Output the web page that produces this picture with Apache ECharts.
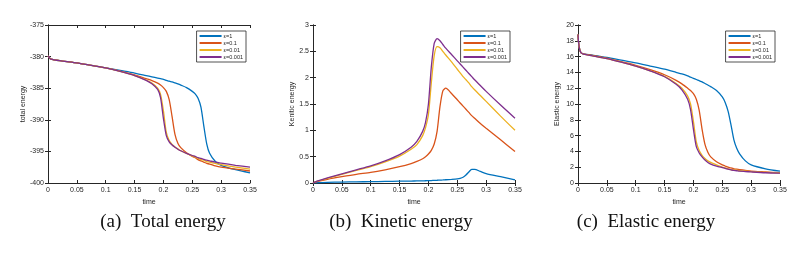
<!DOCTYPE html>
<html><head><meta charset="utf-8">
<script src="https://cdn.jsdelivr.net/npm/echarts@6/dist/echarts.min.js"></script>
<style>html,body{margin:0;padding:0;background:#fff}#c{width:804px;height:254px}</style>
</head><body><div id="c"></div>
<script>
const time = [0, 0.005, 0.025, 0.05, 0.075, 0.1, 0.125, 0.15, 0.17, 0.18, 0.19, 0.195, 0.2, 0.205, 0.21, 0.215, 0.22, 0.225, 0.23, 0.24, 0.25, 0.255, 0.26, 0.265, 0.27, 0.275, 0.28, 0.29, 0.3, 0.325, 0.35];
const seriesNames = ['ε=1', 'ε=0.1', 'ε=0.01', 'ε=0.001'];
const colors = ['#0072BD', '#D95319', '#EDB120', '#7E2F8E'];
const xTicks = [0, 0.05, 0.1, 0.15, 0.2, 0.25, 0.3, 0.35];
const captions = ['(a)  Total energy', '(b)  Kinetic energy', '(c)  Elastic energy'];
const yNames = ['total energy', 'Kenitic energy', 'Elastic energy'];

// Total energy
const total1 = [-379.9, -380.4, -380.7, -381.0, -381.4, -381.8, -382.2, -382.6, -383.0, -383.2, -383.4, -383.5, -383.6, -383.75, -383.9, -384.0, -384.15, -384.3, -384.5, -384.9, -385.5, -385.9, -386.6, -388.0, -391.0, -393.8, -395.3, -396.6, -397.2, -397.9, -398.4];
const total01 = [-379.9, -380.4, -380.7, -381.0, -381.4, -381.8, -382.3, -382.9, -383.5, -383.8, -384.2, -384.5, -384.9, -385.5, -386.8, -389.5, -392.3, -393.7, -394.4, -395.2, -395.8, -396.0, -396.3, -396.5, -396.7, -396.9, -397.0, -397.3, -397.5, -397.8, -398.1];
const total001 = [-379.9, -380.4, -380.7, -381.0, -381.4, -381.8, -382.35, -383.0, -383.7, -384.2, -385.0, -386.0, -388.6, -392.0, -393.3, -393.9, -394.3, -394.6, -394.9, -395.3, -395.7, -395.9, -396.1, -396.3, -396.4, -396.6, -396.7, -396.9, -397.1, -397.5, -397.8];
const total0001 = [-379.9, -380.4, -380.7, -381.0, -381.4, -381.8, -382.35, -383.0, -383.75, -384.3, -385.2, -386.5, -389.8, -392.5, -393.5, -394.0, -394.35, -394.65, -394.9, -395.3, -395.65, -395.8, -396.0, -396.1, -396.25, -396.4, -396.5, -396.7, -396.85, -397.2, -397.5];

// Kinetic energy
const kin1 = [0, 0.005, 0.012, 0.018, 0.022, 0.026, 0.03, 0.034, 0.037, 0.039, 0.041, 0.043, 0.045, 0.047, 0.05, 0.052, 0.055, 0.058, 0.062, 0.07, 0.08, 0.09, 0.11, 0.15, 0.21, 0.26, 0.26, 0.22, 0.18, 0.12, 0.06];
const kin01 = [0, 0.02, 0.07, 0.12, 0.165, 0.2, 0.25, 0.31, 0.37, 0.41, 0.46, 0.5, 0.55, 0.62, 0.74, 0.98, 1.45, 1.75, 1.8, 1.7, 1.58, 1.52, 1.46, 1.4, 1.34, 1.28, 1.23, 1.13, 1.04, 0.82, 0.6];
const kin001 = [0, 0.025, 0.09, 0.165, 0.24, 0.31, 0.4, 0.51, 0.64, 0.73, 0.9, 1.05, 1.3, 1.9, 2.42, 2.59, 2.57, 2.5, 2.43, 2.3, 2.16, 2.09, 2.02, 1.96, 1.9, 1.83, 1.77, 1.66, 1.55, 1.27, 1.0];
const kin0001 = [0, 0.026, 0.095, 0.175, 0.25, 0.325, 0.42, 0.54, 0.68, 0.79, 0.98, 1.15, 1.5, 2.2, 2.65, 2.74, 2.7, 2.63, 2.56, 2.44, 2.32, 2.26, 2.2, 2.14, 2.08, 2.02, 1.96, 1.85, 1.74, 1.48, 1.23];

// Elastic energy
const ela1 = [18.8, 16.5, 16.2, 15.9, 15.55, 15.2, 14.8, 14.4, 14.0, 13.8, 13.55, 13.4, 13.25, 13.1, 12.95, 12.8, 12.6, 12.4, 12.2, 11.7, 10.9, 10.2, 9.1, 7.4, 5.5, 4.4, 3.7, 2.8, 2.3, 1.8, 1.5];
const ela01 = [18.8, 16.5, 16.15, 15.8, 15.35, 14.9, 14.35, 13.7, 13.0, 12.55, 12.0, 11.7, 11.3, 10.6, 9.2, 6.8, 4.9, 3.9, 3.3, 2.7, 2.3, 2.15, 2.0, 1.9, 1.8, 1.75, 1.7, 1.6, 1.5, 1.4, 1.3];
const ela001 = [18.8, 16.5, 16.1, 15.75, 15.3, 14.8, 14.2, 13.5, 12.6, 12.0, 11.0, 10.0, 7.8, 5.2, 4.1, 3.5, 3.1, 2.8, 2.6, 2.3, 2.0, 1.9, 1.8, 1.7, 1.65, 1.6, 1.55, 1.5, 1.45, 1.35, 1.3];
const ela0001 = [18.8, 16.5, 16.1, 15.75, 15.3, 14.8, 14.2, 13.45, 12.5, 11.8, 10.6, 9.3, 6.8, 4.6, 3.8, 3.3, 2.9, 2.6, 2.4, 2.15, 1.95, 1.85, 1.75, 1.65, 1.6, 1.55, 1.5, 1.45, 1.4, 1.3, 1.25];

const panels = [
  {data: [total1, total01, total001, total0001], min: -400, max: -375, interval: 5, left: 48},
  {data: [kin1, kin01, kin001, kin0001], min: 0, max: 3, interval: 0.5, left: 313},
  {data: [ela1, ela01, ela001, ela0001], min: 0, max: 20, interval: 2, left: 578}
];
const legendRight = [558, 294, 29];

const font = 'Liberation Sans, Arial, sans-serif';
const grids = [], xAxes = [], yAxes = [], series = [], legends = [], graphics = [];
panels.forEach((p, i) => {
  grids.push({left: p.left, width: 202, top: 25, height: 158, show: false});
  const xBase = {
    type: 'value', gridIndex: i, min: 0, max: 0.35, interval: 0.05,
    axisLine: {show: true, lineStyle: {color: '#262626', width: 1}},
    axisTick: {show: true, inside: true, length: 3, lineStyle: {color: '#262626'}},
    splitLine: {show: false}
  };
  xAxes.push(Object.assign({}, xBase, {
    position: 'bottom', name: 'time', nameLocation: 'middle', nameGap: 11,
    nameTextStyle: {fontSize: 7, color: '#262626', fontFamily: font},
    axisLabel: {fontSize: 7, color: '#262626', margin: 4, fontFamily: font,
      formatter: v => xTicks.includes(Math.round(v * 100) / 100) ? String(Math.round(v * 100) / 100) : ''}
  }));
  xAxes.push(Object.assign({}, xBase, {position: 'top', axisLabel: {show: false}}));
  const yBase = {
    type: 'value', gridIndex: i, min: p.min, max: p.max, interval: p.interval,
    axisLine: {show: true, lineStyle: {color: '#262626', width: 1}},
    axisTick: {show: true, inside: true, length: 3, lineStyle: {color: '#262626'}},
    splitLine: {show: false}
  };
  yAxes.push(Object.assign({}, yBase, {
    position: 'left', name: yNames[i], nameLocation: 'middle', nameGap: 17,
    nameTextStyle: {fontSize: 7, color: '#262626', fontFamily: font},
    axisLabel: {fontSize: 7, color: '#262626', margin: 4, fontFamily: font}
  }));
  yAxes.push(Object.assign({}, yBase, {position: 'right', axisLabel: {show: false}}));
  p.data.forEach((arr, k) => {
    series.push({
      type: 'line', name: seriesNames[k], xAxisIndex: 2 * i, yAxisIndex: 2 * i,
      data: time.map((t, j) => [t, arr[j]]), showSymbol: false, smooth: 0.25,
      lineStyle: {color: colors[k], width: 1.3}, itemStyle: {color: colors[k]},
      z: 2 + k
    });
  });
  legends.push({
    right: legendRight[i], top: 31, orient: 'vertical', data: seriesNames,
    backgroundColor: '#fff', borderColor: '#262626', borderWidth: 0.8,
    padding: [2, 3, 2, 3], itemGap: 1, itemWidth: 22, itemHeight: 2, icon: 'rect',
    textStyle: {fontSize: 5.5, color: '#262626', fontFamily: font, padding: [0, 0, 0, -3]},
    selectedMode: false
  });
  graphics.push({
    type: 'text', x: [163, 401, 646][i], y: 222,
    style: {text: captions[i], fontSize: 19, fontFamily: 'Liberation Serif, Times New Roman, serif',
      fill: '#111', textAlign: 'center', textVerticalAlign: 'middle'}
  });
});

const chart = echarts.init(document.getElementById('c'), null, {renderer: 'canvas'});
chart.setOption({
  animation: false,
  backgroundColor: '#fff',
  grid: grids, xAxis: xAxes, yAxis: yAxes, series: series, legend: legends,
  graphic: graphics
});
</script></body></html>
